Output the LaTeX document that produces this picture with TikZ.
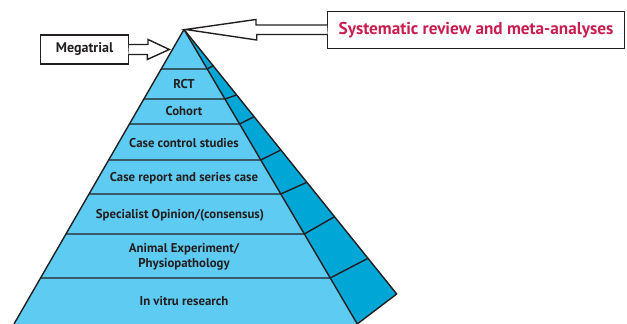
\documentclass[tikz,border=0pt]{standalone}
\usepackage{fontspec}
\setmainfont{PT Sans}
\usetikzlibrary{calc}
\definecolor{frontblue}{RGB}{94,203,243}
\definecolor{sideblue}{RGB}{0,166,214}
\definecolor{edgegray}{RGB}{35,31,32}
\definecolor{redtxt}{RGB}{200,30,80}
\tikzset{
  pyrline/.style={draw=edgegray, line width=0.7pt, line join=round},
  lbl/.style={font=\fontsize{6.4}{7.6}\selectfont\bfseries, text=edgegray, align=center, inner sep=0pt},
  boxnode/.style={draw=edgegray, fill=white, line width=0.7pt, inner sep=0pt},
  arrowline/.style={draw=edgegray, fill=white, line width=0.7pt, line join=miter},
}
\begin{document}
\begin{tikzpicture}[x=0.5pt,y=-0.5pt]
\useasboundingbox (0,0) rectangle (627,324);
\clip (0,0) rectangle (627,324);
\coordinate (apex) at (184,29.5);
\coordinate (bl) at (14,324);
\coordinate (br) at (357.3,324);
\coordinate (out) at (396.7,294);
% faces
\fill[sideblue] (apex) -- (out) -- (br) -- cycle;
\fill[frontblue] (apex) -- (bl) -- (br) -- cycle;
\draw[pyrline] (bl) -- (apex) -- (br);
\draw[pyrline] (apex) -- (out) -- (br);
% layer lines
\foreach \yy/\ys in {69/65.7, 99/95, 124/116.7, 160/150, 194/182.3, 234/216.7, 278/258.3}{
  \draw[pyrline] ($(apex)!{(\yy-29.5)/294.5}!(bl)$) -- ($(apex)!{(\yy-29.5)/294.5}!(br)$) -- ($(apex)!{(\ys-29.5)/264.5}!(out)$);
}
% labels
\node[lbl] (rct) at (184,84) {RCT};
\node[lbl] (cohort) at (184,111.5) {Cohort};
\node[lbl] (cc) at (184,143) {Case control studies};
\node[lbl] (cr) at (184,178) {Case report and series case};
\node[lbl] (so) at (180,215) {Specialist Opinion/(consensus)};
\node[lbl] (ae) at (184,257) {Animal Experiment/\\Physiopathology};
\node[lbl] (iv) at (184,301.5) {In vitru research};
% megatrial
\node[boxnode, minimum width=43.8pt, minimum height=14.5pt, font=\fontsize{7}{8}\selectfont\bfseries, text=edgegray] (mega) at (84.5,49.5) {Megatrial};
\coordinate (mtip) at (169.3,49.5);
\draw[arrowline] (mega.east) ++(0,-5) -- ++(19,0) -- ++(0,-5) -- (mtip) -- ++(-22,10) -- ++(0,-5) -- ++(-19,0);
% systematic review
\node[boxnode, minimum width=148.3pt, minimum height=18.3pt, font=\fontsize{8.6}{10}\selectfont\bfseries, text=redtxt] (sr) at (476,30) {Systematic review and meta-analyses};
\coordinate (stip) at (185.7,29.5);
\draw[arrowline] (sr.west) ++(0,-5) -- ++(-71,0) -- ++(0,-5.5) -- (stip) -- ++(71,10.5) -- ++(0,-5.5) -- ++(71,0);
\end{tikzpicture}
\end{document}
